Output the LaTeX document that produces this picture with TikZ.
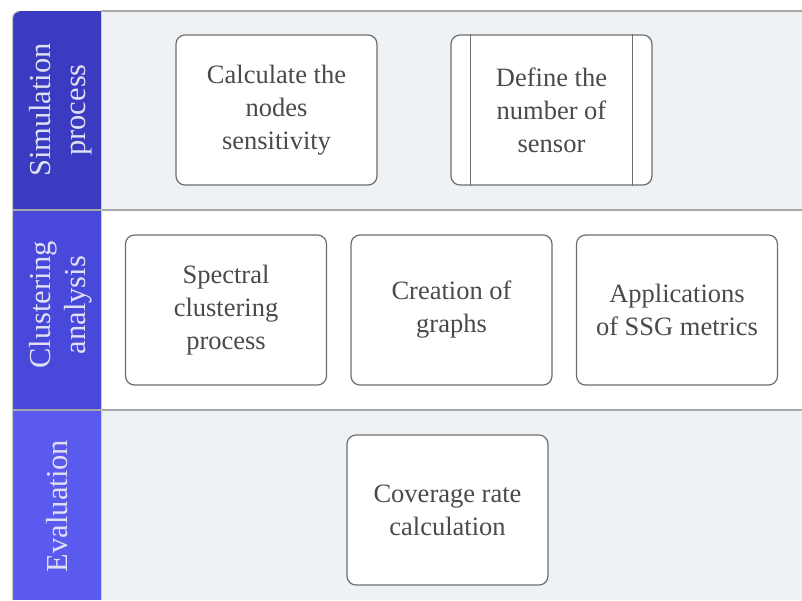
\documentclass[tikz,border=0pt]{standalone}
\usepackage{fontspec}
\setmainfont{Liberation Serif}
\definecolor{laneA}{HTML}{3B3BC2}
\definecolor{laneB}{HTML}{4848DA}
\definecolor{laneC}{HTML}{5A5AEE}
\definecolor{lanebg}{HTML}{EFF2F5}
\definecolor{rule}{HTML}{A8A8A8}
\definecolor{boxline}{HTML}{6E6E6E}
\definecolor{txt}{HTML}{4A4A4A}
\definecolor{headtxt}{HTML}{E0E0F2}
\tikzset{
  stepbox/.style={draw=boxline, line width=1.2pt, fill=white, rounded corners=9pt,
    minimum width=201pt, minimum height=150pt, inner sep=0pt,
    align=center, text=txt, font=\fontsize{26.5}{33}\selectfont},
  headlabel/.style={rotate=90, align=center, text=headtxt,
    font=\fontsize{30.5}{35}\selectfont},
  lanerule/.style={draw=rule, line width=1.4pt}
}
\begin{document}
\begin{tikzpicture}[x=1pt, y=-1pt]
\useasboundingbox (0,0) rectangle (802,600);
\fill[white] (0,0) rectangle (802,600);
% lane backgrounds
\fill[lanebg] (101,11) rectangle (802,210);
\fill[white] (101,210) rectangle (802,410);
\fill[lanebg] (101,410) rectangle (802,600);
% header column (y axis points down, so the top-left arc runs 180 -> 270)
\fill[laneA] (13,210) -- (13,18) arc[start angle=180, end angle=270, radius=7] -- (101,11) -- (101,210) -- cycle;
\fill[laneB] (13,210) rectangle (101,410);
\fill[laneC] (13,410) rectangle (101,600);
% borders
\draw[draw=rule!70, line width=1pt] (12.5,600) -- (12.5,18) arc[start angle=180, end angle=270, radius=6.5];
\draw[lanerule] (101,11) -- (802,11);
\draw[lanerule] (13,210) -- (802,210);
\draw[lanerule] (13,410) -- (802,410);
\draw[draw=rule!60, line width=0.8pt] (101.5,11) -- (101.5,600);
% lane titles
\node[headlabel] (hA) at (61,110) {Simulation\\process};
\node[headlabel] (hB) at (61,305) {Clustering\\analysis};
\node[headlabel] (hC) at (57,506) {Evaluation};
% simulation process
\node[stepbox] (sens) at (276.5,110) {Calculate the\\nodes\\sensitivity};
\node[stepbox] (num) at (551.5,110) {Define the\\number of\\sensor};
\draw[boxline, line width=1.2pt] ([xshift=20pt]num.north west) -- ([xshift=20pt]num.south west);
\draw[boxline, line width=1.2pt] ([xshift=-20pt]num.north east) -- ([xshift=-20pt]num.south east);
% clustering analysis
\node[stepbox] (spec) at (226,310) {Spectral\\clustering\\process};
\node[stepbox] (graph) at (451.5,310) {Creation of\\graphs};
\node[stepbox] (ssg) at (677,310) {Applications\\of SSG metrics};
% evaluation
\node[stepbox] (cov) at (447.5,510) {Coverage rate\\calculation};
\end{tikzpicture}
\end{document}
